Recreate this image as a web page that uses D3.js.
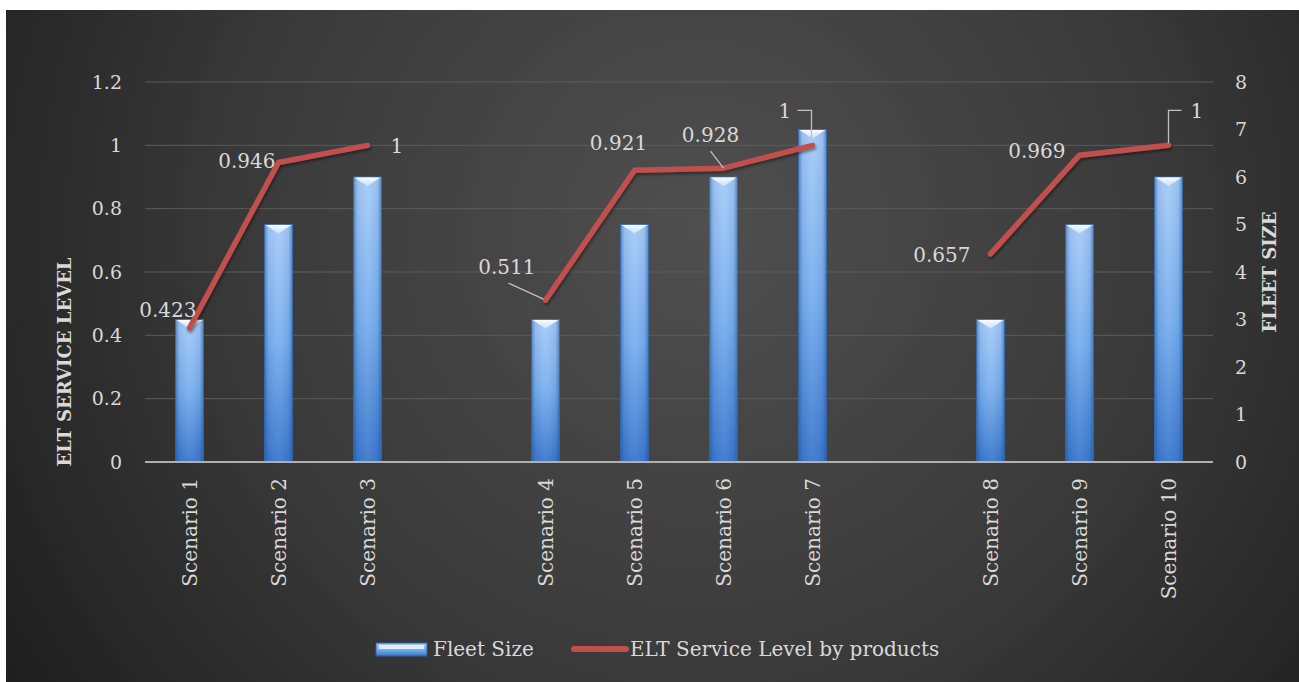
<!DOCTYPE html>
<html>
<head>
<meta charset="utf-8">
<script src="https://cdn.jsdelivr.net/npm/d3@7"></script>
<style>
  html, body { margin: 0; padding: 0; background: #ffffff; }
  svg { display: block; }
  text { font-family: "DejaVu Serif", "Liberation Serif", serif; }
</style>
</head>
<body>
<svg id="chart" width="1299" height="682"></svg>
<script>
// Category slots: empty strings separate the three scenario groups
const categories = ["Scenario 1", "Scenario 2", "Scenario 3", "",
                    "Scenario 4", "Scenario 5", "Scenario 6", "Scenario 7", "",
                    "Scenario 8", "Scenario 9", "Scenario 10"];
// Fleet size per slot (right axis)
const fleetSize = [3, 5, 6, null, 3, 5, 6, 7, null, 3, 5, 6];
// ELT service level per slot (left axis)
const serviceLevel = [0.423, 0.946, 1, null, 0.511, 0.921, 0.928, 1, null, 0.657, 0.969, 1];
const leftTicks = [0, 0.2, 0.4, 0.6, 0.8, 1, 1.2];
const rightTicks = [0, 1, 2, 3, 4, 5, 6, 7, 8];
const seriesNames = ["Fleet Size", "ELT Service Level by products"];

const svg = d3.select("#chart");
const W = 1299, H = 682;
const defs = svg.append("defs");

// background panel
const bg = defs.append("radialGradient").attr("id", "bgGrad")
  .attr("gradientUnits", "userSpaceOnUse")
  .attr("cx", 700).attr("cy", 230).attr("r", 820);
bg.append("stop").attr("offset", 0).attr("stop-color", "#4f4f4f");
bg.append("stop").attr("offset", 0.55).attr("stop-color", "#3a3a3a");
bg.append("stop").attr("offset", 1).attr("stop-color", "#1f1f1f");
svg.append("rect").attr("x", 6).attr("y", 10).attr("width", W - 6).attr("height", H - 10)
  .attr("fill", "url(#bgGrad)");

// bar fill gradients
const barV = defs.append("linearGradient").attr("id", "barV")
  .attr("x1", 0).attr("y1", 0).attr("x2", 0).attr("y2", 1);
barV.append("stop").attr("offset", 0).attr("stop-color", "#a6cbf7");
barV.append("stop").attr("offset", 0.5).attr("stop-color", "#78aeee");
barV.append("stop").attr("offset", 1).attr("stop-color", "#3976cc");
const barH = defs.append("linearGradient").attr("id", "barH")
  .attr("x1", 0).attr("y1", 0).attr("x2", 1).attr("y2", 0);
barH.append("stop").attr("offset", 0).attr("stop-color", "#1d4f94").attr("stop-opacity", 0.55);
barH.append("stop").attr("offset", 0.14).attr("stop-color", "#1d4f94").attr("stop-opacity", 0.1);
barH.append("stop").attr("offset", 0.5).attr("stop-color", "#ffffff").attr("stop-opacity", 0.06);
barH.append("stop").attr("offset", 0.86).attr("stop-color", "#1d4f94").attr("stop-opacity", 0.1);
barH.append("stop").attr("offset", 1).attr("stop-color", "#1d4f94").attr("stop-opacity", 0.55);
const bevel = defs.append("linearGradient").attr("id", "bevel")
  .attr("x1", 0).attr("y1", 0).attr("x2", 0).attr("y2", 1);
bevel.append("stop").attr("offset", 0).attr("stop-color", "#ffffff").attr("stop-opacity", 0.95);
bevel.append("stop").attr("offset", 1).attr("stop-color", "#d6e8ff").attr("stop-opacity", 0.75);

const shadow = defs.append("filter").attr("id", "lineShadow")
  .attr("x", "-10%").attr("y", "-10%").attr("width", "120%").attr("height", "130%");
shadow.append("feDropShadow").attr("dx", 1).attr("dy", 2).attr("stdDeviation", 1.5)
  .attr("flood-color", "#000").attr("flood-opacity", 0.45);

// scales
const x = d3.scaleBand().domain(d3.range(categories.length)).range([145, 1213]);
const yL = d3.scaleLinear().domain([0, 1.2]).range([462, 82]);
const yR = d3.scaleLinear().domain([0, 8]).range([462, 82]);
const cx = i => x(i) + x.bandwidth() / 2;
const barW = 28;

const txt = "#d9d9d9";

// gridlines
svg.append("g").selectAll("line").data(leftTicks.filter(t => t > 0)).join("line")
  .attr("x1", 145).attr("x2", 1213)
  .attr("y1", d => yL(d)).attr("y2", d => yL(d))
  .attr("stroke", "#5c5c5c").attr("stroke-width", 1);

// left axis labels
const axL = svg.append("g").attr("transform", "translate(122,0)")
  .call(d3.axisLeft(yL).tickValues(leftTicks).tickSize(0).tickPadding(0).tickFormat(d3.format("~g")));
axL.select(".domain").remove();
axL.selectAll("text").attr("fill", txt).style("font-size", "19px")
  .style("font-family", "DejaVu Serif, serif");

// right axis labels
const axR = svg.append("g").attr("transform", "translate(1235,0)")
  .call(d3.axisRight(yR).tickValues(rightTicks).tickSize(0).tickPadding(0));
axR.select(".domain").remove();
axR.selectAll("text").attr("fill", txt).style("font-size", "19px")
  .style("font-family", "DejaVu Serif, serif");

// bars
const bars = svg.append("g").selectAll("g")
  .data(fleetSize.map((v, i) => ({ v, i })).filter(d => d.v != null)).join("g");
bars.append("rect")
  .attr("x", d => cx(d.i) - barW / 2).attr("y", d => yR(d.v))
  .attr("width", barW).attr("height", d => yR(0) - yR(d.v))
  .attr("fill", "url(#barV)").attr("stroke", "#3c6fb3").attr("stroke-width", 0.8);
bars.append("rect")
  .attr("x", d => cx(d.i) - barW / 2).attr("y", d => yR(d.v))
  .attr("width", barW).attr("height", d => yR(0) - yR(d.v))
  .attr("fill", "url(#barH)");
bars.append("path")
  .attr("d", d => {
    const l = cx(d.i) - barW / 2, r = cx(d.i) + barW / 2, t = yR(d.v);
    return `M${l + 1},${t + 0.5} L${r - 1},${t + 0.5} L${cx(d.i)},${t + 9} Z`;
  })
  .attr("fill", "url(#bevel)");

// baseline axis
svg.append("line").attr("x1", 145).attr("x2", 1213)
  .attr("y1", yL(0)).attr("y2", yL(0))
  .attr("stroke", "#b0b0b0").attr("stroke-width", 2);

// category labels
svg.append("g").selectAll("text")
  .data(categories.map((c, i) => ({ c, i })).filter(d => d.c)).join("text")
  .attr("transform", d => `translate(${cx(d.i)},478) rotate(-90)`)
  .attr("text-anchor", "end").attr("dy", "0.35em")
  .attr("fill", txt).style("font-size", "20px")
  .text(d => d.c);

// service level line (broken between groups)
const line = d3.line()
  .defined(d => d.v != null)
  .x(d => cx(d.i)).y(d => yL(d.v));
svg.append("path")
  .datum(serviceLevel.map((v, i) => ({ v, i })))
  .attr("d", line)
  .attr("fill", "none").attr("stroke", "#c0504d").attr("stroke-width", 5.5)
  .attr("stroke-linecap", "round").attr("stroke-linejoin", "round")
  .attr("filter", "url(#lineShadow)");

// data labels: offsets from each point, plus optional leader line
const labelPlacement = [
  { dx: 7, dy: -11, a: "end" },
  { dx: -3, dy: 6, a: "end" },
  { dx: 23, dy: 8, a: "start" },
  null,
  { dx: -10, dy: -26, a: "end", leader: [[-37, -17], [-2, -1]] },
  { dx: -16, dy: -20, a: "middle" },
  { dx: -13, dy: -26, a: "middle", leader: [[-13, -17], [0, 0]] },
  { dx: -34, dy: -27, a: "start", leader: [[-15, -35], [-1, -35], [-1, -2]] },
  null,
  { dx: -20, dy: 8, a: "end" },
  { dx: -14, dy: 3, a: "end" },
  { dx: 22, dy: -27, a: "start", leader: [[13, -35], [0, -35], [0, -2]] }
];
const lbl = svg.append("g");
serviceLevel.forEach((v, i) => {
  if (v == null) return;
  const p = labelPlacement[i];
  const px = cx(i), py = yL(v);
  if (p.leader) {
    lbl.append("path")
      .attr("d", d3.line()(p.leader.map(([a, b]) => [px + a, py + b])))
      .attr("fill", "none").attr("stroke", "#bfbfbf").attr("stroke-width", 1.3);
  }
  lbl.append("text")
    .attr("x", px + p.dx).attr("y", py + p.dy)
    .attr("text-anchor", p.a)
    .attr("fill", txt).style("font-size", "20px")
    .text(d3.format("~g")(v));
});

// axis titles
svg.append("text")
  .attr("transform", "translate(65,362) rotate(-90)")
  .attr("text-anchor", "middle").attr("dy", "0.35em")
  .attr("fill", txt).style("font-size", "18px").style("font-weight", "bold")
  .text("ELT SERVICE LEVEL");
svg.append("text")
  .attr("transform", "translate(1270,272) rotate(-90)")
  .attr("text-anchor", "middle").attr("dy", "0.35em")
  .attr("fill", txt).style("font-size", "18px").style("font-weight", "bold")
  .text("FLEET SIZE");

// legend
const lg = svg.append("g");
lg.append("rect").attr("x", 376).attr("y", 643).attr("width", 51).attr("height", 13)
  .attr("fill", "url(#barV)").attr("stroke", "#2f5f9f").attr("stroke-width", 1);
lg.append("rect").attr("x", 379).attr("y", 645).attr("width", 45).attr("height", 4)
  .attr("fill", "#ffffff").attr("opacity", 0.75);
lg.append("text").attr("x", 433).attr("y", 656)
  .attr("fill", txt).style("font-size", "20px").text(seriesNames[0]);
lg.append("line").attr("x1", 574).attr("x2", 626).attr("y1", 649).attr("y2", 649)
  .attr("stroke", "#c0504d").attr("stroke-width", 6).attr("stroke-linecap", "round");
lg.append("text").attr("x", 630).attr("y", 656)
  .attr("fill", txt).style("font-size", "20px").text(seriesNames[1]);
</script>
</body>
</html>
